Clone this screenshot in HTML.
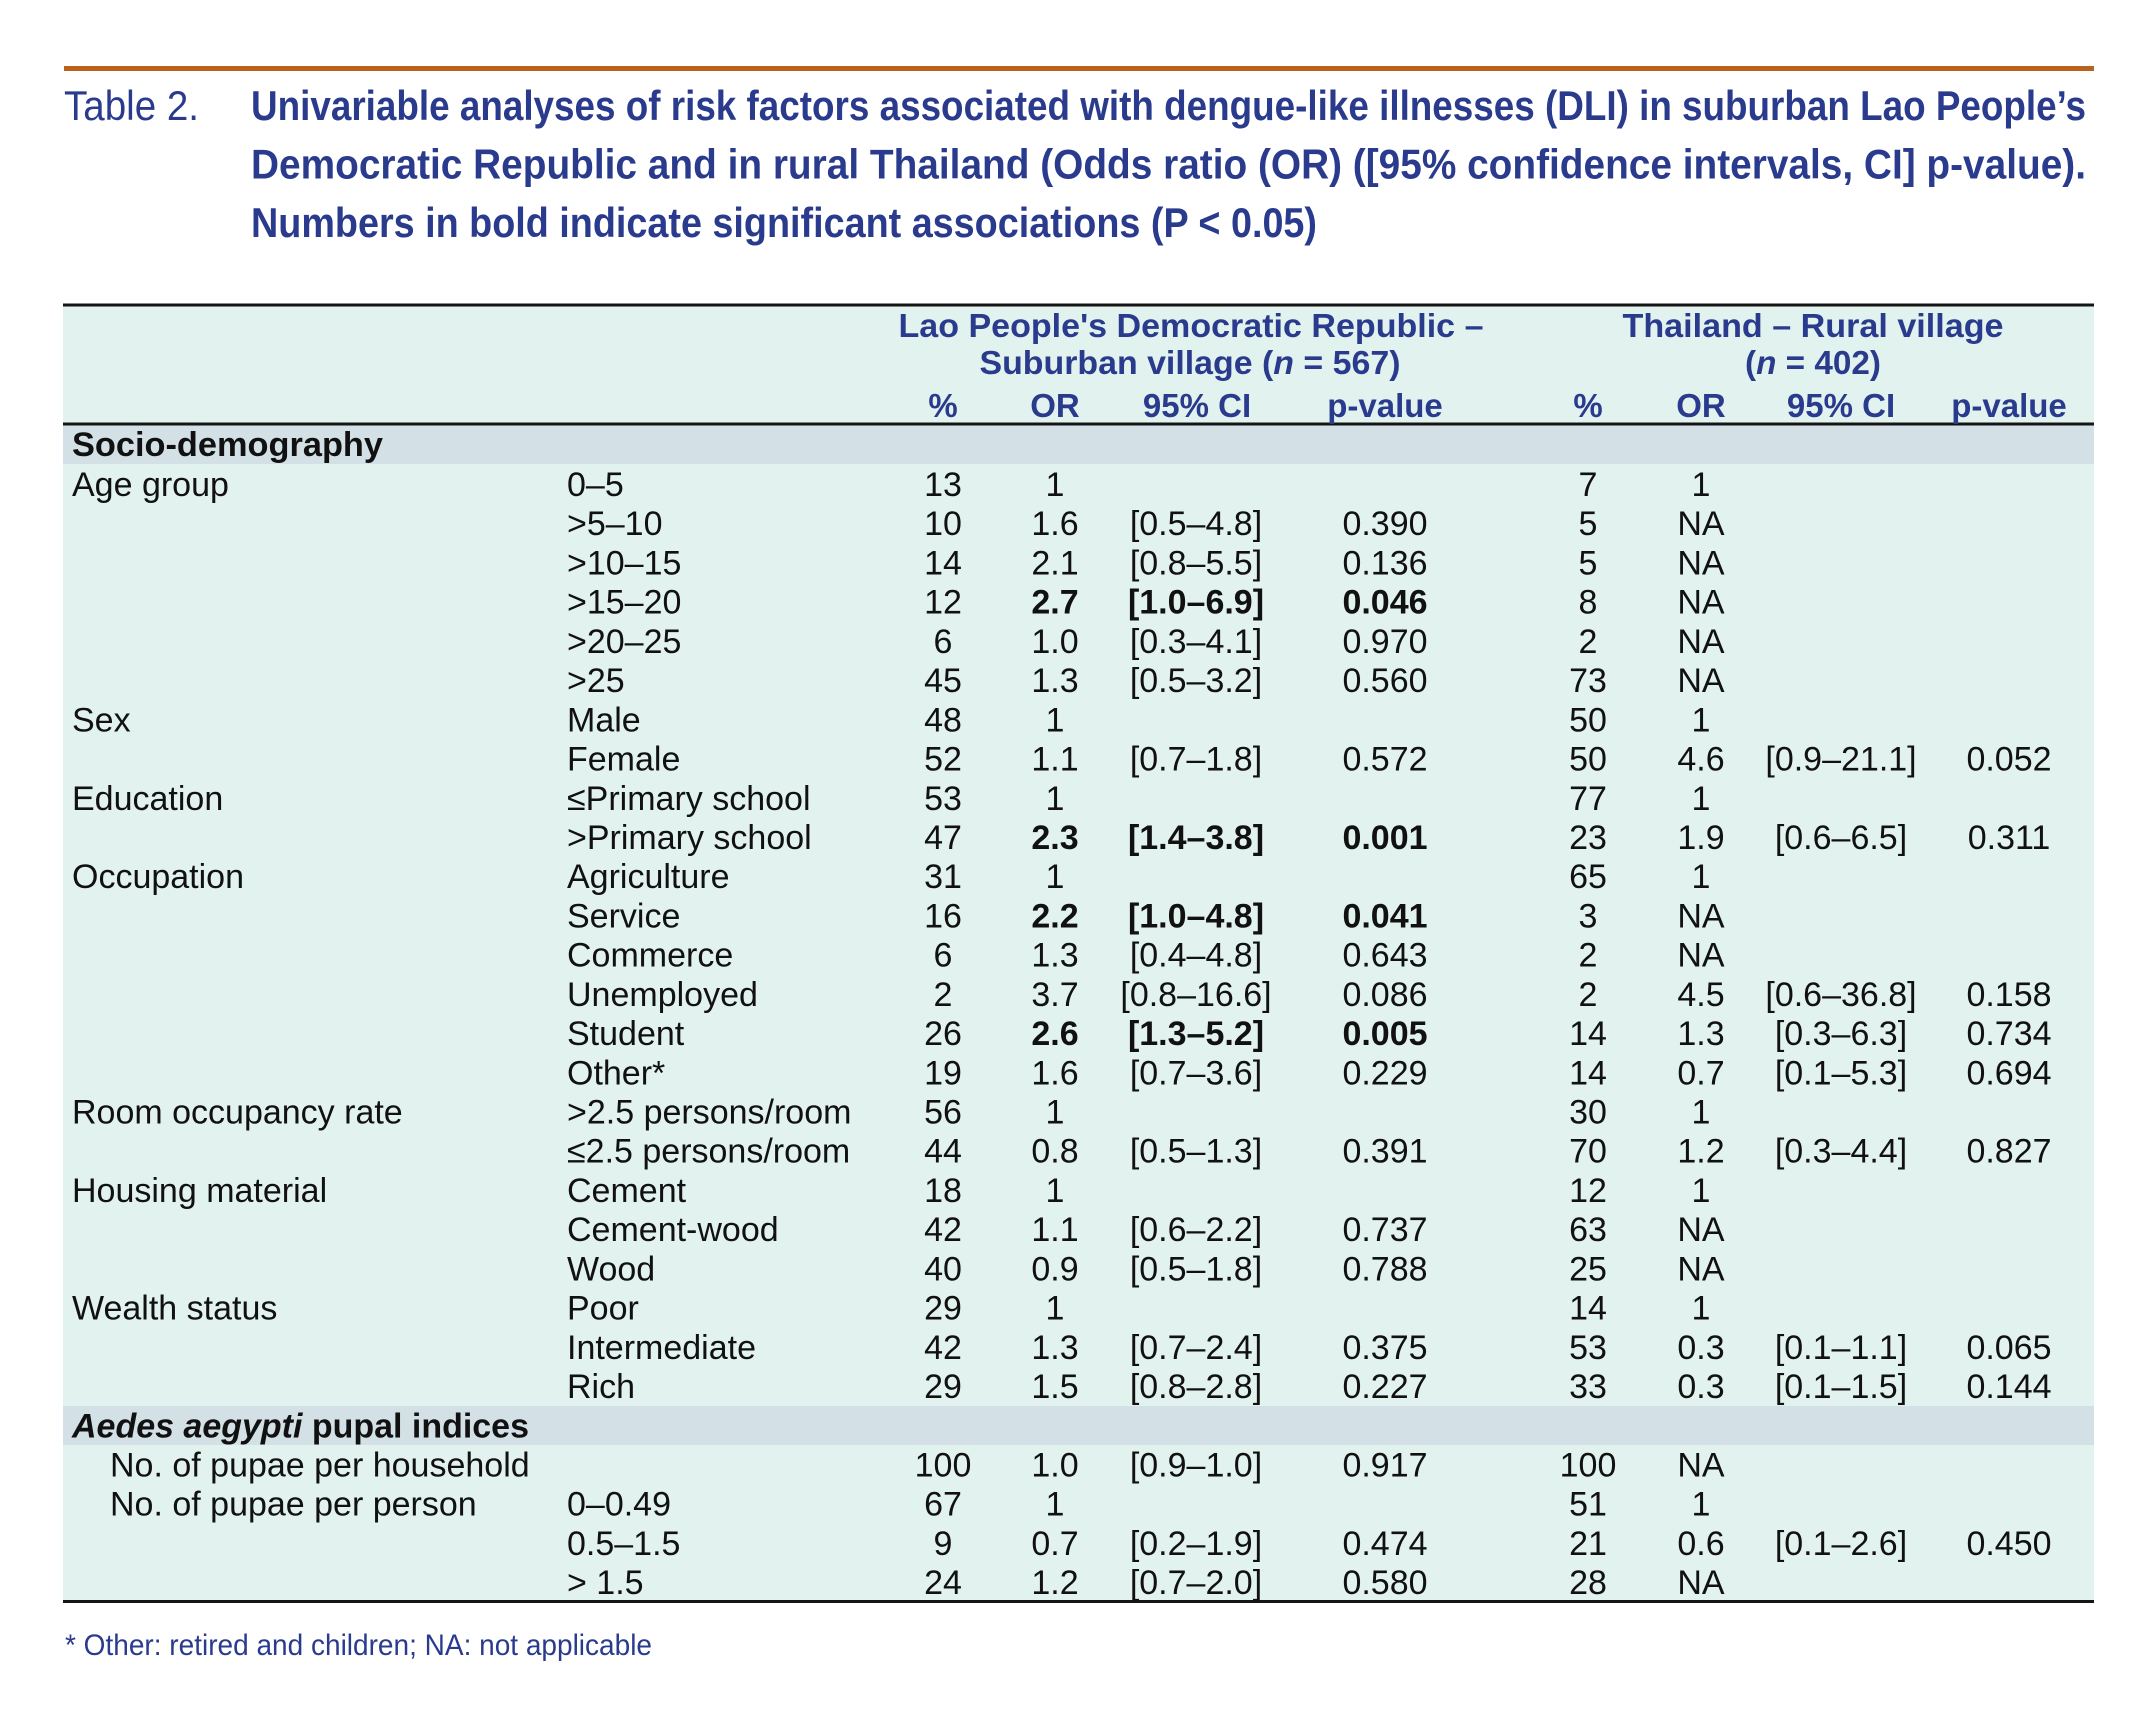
<!DOCTYPE html>
<html>
<head>
<meta charset="utf-8">
<style>
html,body{margin:0;padding:0;background:#fff;}
svg{display:block;}
.t{font-family:"Liberation Sans",Arial,sans-serif;}
.n{font-family:"Liberation Sans",Arial,sans-serif;font-size:34px;fill:#111;text-anchor:middle;}
.l{font-family:"Liberation Sans",Arial,sans-serif;font-size:34px;fill:#111;}
.b{font-weight:bold;}
.h{font-family:"Liberation Sans",Arial,sans-serif;font-size:33px;font-weight:bold;fill:#2a3b8e;text-anchor:middle;}
</style>
</head>
<body>
<svg width="2153" height="1724" viewBox="0 0 2153 1724" xmlns="http://www.w3.org/2000/svg">
<rect x="0" y="0" width="2153" height="1724" fill="#ffffff"/>
<!-- orange rule -->
<rect x="64" y="66" width="2030" height="5" fill="#b9621d"/>
<!-- title -->
<text class="t" x="64" y="120" font-size="42" fill="#2a3b8e" textLength="135" lengthAdjust="spacingAndGlyphs">Table 2.</text>
<text class="t" x="251" y="120" font-size="42" font-weight="bold" fill="#2a3b8e" textLength="1835" lengthAdjust="spacingAndGlyphs">Univariable analyses of risk factors associated with dengue-like illnesses (DLI) in suburban Lao People’s</text>
<text class="t" x="251" y="178.5" font-size="42" font-weight="bold" fill="#2a3b8e" textLength="1835" lengthAdjust="spacingAndGlyphs">Democratic Republic and in rural Thailand (Odds ratio (OR) ([95% confidence intervals, CI] p-value).</text>
<text class="t" x="251" y="237" font-size="42" font-weight="bold" fill="#2a3b8e" textLength="1066" lengthAdjust="spacingAndGlyphs">Numbers in bold indicate significant associations (P &lt; 0.05)</text>

<!-- table backgrounds -->
<rect x="63" y="305" width="2031" height="1296" fill="#e2f2ee"/>
<rect x="63" y="425" width="2031" height="39" fill="#d3e1e6"/>
<rect x="63" y="1406" width="2031" height="39" fill="#d3e1e6"/>
<!-- rules -->
<rect x="63" y="303.5" width="2031" height="3" fill="#151515"/>
<rect x="63" y="422.5" width="2031" height="3" fill="#151515"/>
<rect x="63" y="1600" width="2031" height="3" fill="#151515"/>

<!-- header -->
<text class="h" x="1191" y="337" textLength="585" lengthAdjust="spacingAndGlyphs">Lao People's Democratic Republic –</text>
<text class="h" x="1190" y="374" textLength="421" lengthAdjust="spacingAndGlyphs">Suburban village (<tspan font-style="italic">n</tspan> = 567)</text>
<text class="h" x="1813" y="337" textLength="381" lengthAdjust="spacingAndGlyphs">Thailand – Rural village</text>
<text class="h" x="1813" y="374" textLength="136" lengthAdjust="spacingAndGlyphs">(<tspan font-style="italic">n</tspan> = 402)</text>
<text class="h" x="943" y="417">%</text>
<text class="h" x="1055" y="417">OR</text>
<text class="h" x="1197" y="417">95% CI</text>
<text class="h" x="1385" y="417">p-value</text>
<text class="h" x="1588" y="417">%</text>
<text class="h" x="1701" y="417">OR</text>
<text class="h" x="1841" y="417">95% CI</text>
<text class="h" x="2009" y="417">p-value</text>

<!-- section 1 -->
<text class="l b" x="72" y="456" textLength="311" lengthAdjust="spacingAndGlyphs">Socio-demography</text>

<!-- column 1 labels -->
<text class="l" x="72" y="496">Age group</text>
<text class="l" x="72" y="731.3">Sex</text>
<text class="l" x="72" y="809.8">Education</text>
<text class="l" x="72" y="888.2">Occupation</text>
<text class="l" x="72" y="1123.5">Room occupancy rate</text>
<text class="l" x="72" y="1202">Housing material</text>
<text class="l" x="72" y="1319.6">Wealth status</text>
<text class="l b" x="72" y="1437.3" textLength="457" lengthAdjust="spacingAndGlyphs"><tspan font-style="italic">Aedes aegypti</tspan> pupal indices</text>
<text class="l" x="110" y="1476.5">No. of pupae per household</text>
<text class="l" x="110" y="1515.7">No. of pupae per person</text>

<!-- column 2 labels -->
<text class="l" x="567" y="496">0–5</text>
<text class="l" x="567" y="535.2">&gt;5–10</text>
<text class="l" x="567" y="574.4">&gt;10–15</text>
<text class="l" x="567" y="613.7">&gt;15–20</text>
<text class="l" x="567" y="652.9">&gt;20–25</text>
<text class="l" x="567" y="692.1">&gt;25</text>
<text class="l" x="567" y="731.3">Male</text>
<text class="l" x="567" y="770.5">Female</text>
<text class="l" x="567" y="809.8">≤Primary school</text>
<text class="l" x="567" y="849">&gt;Primary school</text>
<text class="l" x="567" y="888.2">Agriculture</text>
<text class="l" x="567" y="927.4">Service</text>
<text class="l" x="567" y="966.6">Commerce</text>
<text class="l" x="567" y="1005.9">Unemployed</text>
<text class="l" x="567" y="1045.1">Student</text>
<text class="l" x="567" y="1084.3">Other*</text>
<text class="l" x="567" y="1123.5">&gt;2.5 persons/room</text>
<text class="l" x="567" y="1162.7">≤2.5 persons/room</text>
<text class="l" x="567" y="1202">Cement</text>
<text class="l" x="567" y="1241.2">Cement-wood</text>
<text class="l" x="567" y="1280.4">Wood</text>
<text class="l" x="567" y="1319.6">Poor</text>
<text class="l" x="567" y="1358.8">Intermediate</text>
<text class="l" x="567" y="1398.1">Rich</text>
<text class="l" x="567" y="1515.7">0–0.49</text>
<text class="l" x="567" y="1554.9">0.5–1.5</text>
<text class="l" x="567" y="1594.2">&gt; 1.5</text>

<!-- Lao data -->
<g>
<text class="n" x="943" y="496">13</text><text class="n" x="1055" y="496">1</text>
<text class="n" x="943" y="535.2">10</text><text class="n" x="1055" y="535.2">1.6</text><text class="n" x="1196" y="535.2">[0.5–4.8]</text><text class="n" x="1385" y="535.2">0.390</text>
<text class="n" x="943" y="574.4">14</text><text class="n" x="1055" y="574.4">2.1</text><text class="n" x="1196" y="574.4">[0.8–5.5]</text><text class="n" x="1385" y="574.4">0.136</text>
<text class="n" x="943" y="613.7">12</text><text class="n b" x="1055" y="613.7">2.7</text><text class="n b" x="1196" y="613.7">[1.0–6.9]</text><text class="n b" x="1385" y="613.7">0.046</text>
<text class="n" x="943" y="652.9">6</text><text class="n" x="1055" y="652.9">1.0</text><text class="n" x="1196" y="652.9">[0.3–4.1]</text><text class="n" x="1385" y="652.9">0.970</text>
<text class="n" x="943" y="692.1">45</text><text class="n" x="1055" y="692.1">1.3</text><text class="n" x="1196" y="692.1">[0.5–3.2]</text><text class="n" x="1385" y="692.1">0.560</text>
<text class="n" x="943" y="731.3">48</text><text class="n" x="1055" y="731.3">1</text>
<text class="n" x="943" y="770.5">52</text><text class="n" x="1055" y="770.5">1.1</text><text class="n" x="1196" y="770.5">[0.7–1.8]</text><text class="n" x="1385" y="770.5">0.572</text>
<text class="n" x="943" y="809.8">53</text><text class="n" x="1055" y="809.8">1</text>
<text class="n" x="943" y="849">47</text><text class="n b" x="1055" y="849">2.3</text><text class="n b" x="1196" y="849">[1.4–3.8]</text><text class="n b" x="1385" y="849">0.001</text>
<text class="n" x="943" y="888.2">31</text><text class="n" x="1055" y="888.2">1</text>
<text class="n" x="943" y="927.4">16</text><text class="n b" x="1055" y="927.4">2.2</text><text class="n b" x="1196" y="927.4">[1.0–4.8]</text><text class="n b" x="1385" y="927.4">0.041</text>
<text class="n" x="943" y="966.6">6</text><text class="n" x="1055" y="966.6">1.3</text><text class="n" x="1196" y="966.6">[0.4–4.8]</text><text class="n" x="1385" y="966.6">0.643</text>
<text class="n" x="943" y="1005.9">2</text><text class="n" x="1055" y="1005.9">3.7</text><text class="n" x="1196" y="1005.9">[0.8–16.6]</text><text class="n" x="1385" y="1005.9">0.086</text>
<text class="n" x="943" y="1045.1">26</text><text class="n b" x="1055" y="1045.1">2.6</text><text class="n b" x="1196" y="1045.1">[1.3–5.2]</text><text class="n b" x="1385" y="1045.1">0.005</text>
<text class="n" x="943" y="1084.3">19</text><text class="n" x="1055" y="1084.3">1.6</text><text class="n" x="1196" y="1084.3">[0.7–3.6]</text><text class="n" x="1385" y="1084.3">0.229</text>
<text class="n" x="943" y="1123.5">56</text><text class="n" x="1055" y="1123.5">1</text>
<text class="n" x="943" y="1162.7">44</text><text class="n" x="1055" y="1162.7">0.8</text><text class="n" x="1196" y="1162.7">[0.5–1.3]</text><text class="n" x="1385" y="1162.7">0.391</text>
<text class="n" x="943" y="1202">18</text><text class="n" x="1055" y="1202">1</text>
<text class="n" x="943" y="1241.2">42</text><text class="n" x="1055" y="1241.2">1.1</text><text class="n" x="1196" y="1241.2">[0.6–2.2]</text><text class="n" x="1385" y="1241.2">0.737</text>
<text class="n" x="943" y="1280.4">40</text><text class="n" x="1055" y="1280.4">0.9</text><text class="n" x="1196" y="1280.4">[0.5–1.8]</text><text class="n" x="1385" y="1280.4">0.788</text>
<text class="n" x="943" y="1319.6">29</text><text class="n" x="1055" y="1319.6">1</text>
<text class="n" x="943" y="1358.8">42</text><text class="n" x="1055" y="1358.8">1.3</text><text class="n" x="1196" y="1358.8">[0.7–2.4]</text><text class="n" x="1385" y="1358.8">0.375</text>
<text class="n" x="943" y="1398.1">29</text><text class="n" x="1055" y="1398.1">1.5</text><text class="n" x="1196" y="1398.1">[0.8–2.8]</text><text class="n" x="1385" y="1398.1">0.227</text>
<text class="n" x="943" y="1476.5">100</text><text class="n" x="1055" y="1476.5">1.0</text><text class="n" x="1196" y="1476.5">[0.9–1.0]</text><text class="n" x="1385" y="1476.5">0.917</text>
<text class="n" x="943" y="1515.7">67</text><text class="n" x="1055" y="1515.7">1</text>
<text class="n" x="943" y="1554.9">9</text><text class="n" x="1055" y="1554.9">0.7</text><text class="n" x="1196" y="1554.9">[0.2–1.9]</text><text class="n" x="1385" y="1554.9">0.474</text>
<text class="n" x="943" y="1594.2">24</text><text class="n" x="1055" y="1594.2">1.2</text><text class="n" x="1196" y="1594.2">[0.7–2.0]</text><text class="n" x="1385" y="1594.2">0.580</text>
</g>

<!-- Thailand data -->
<g>
<text class="n" x="1588" y="496">7</text><text class="n" x="1701" y="496">1</text>
<text class="n" x="1588" y="535.2">5</text><text class="n" x="1701" y="535.2">NA</text>
<text class="n" x="1588" y="574.4">5</text><text class="n" x="1701" y="574.4">NA</text>
<text class="n" x="1588" y="613.7">8</text><text class="n" x="1701" y="613.7">NA</text>
<text class="n" x="1588" y="652.9">2</text><text class="n" x="1701" y="652.9">NA</text>
<text class="n" x="1588" y="692.1">73</text><text class="n" x="1701" y="692.1">NA</text>
<text class="n" x="1588" y="731.3">50</text><text class="n" x="1701" y="731.3">1</text>
<text class="n" x="1588" y="770.5">50</text><text class="n" x="1701" y="770.5">4.6</text><text class="n" x="1841" y="770.5">[0.9–21.1]</text><text class="n" x="2009" y="770.5">0.052</text>
<text class="n" x="1588" y="809.8">77</text><text class="n" x="1701" y="809.8">1</text>
<text class="n" x="1588" y="849">23</text><text class="n" x="1701" y="849">1.9</text><text class="n" x="1841" y="849">[0.6–6.5]</text><text class="n" x="2009" y="849">0.311</text>
<text class="n" x="1588" y="888.2">65</text><text class="n" x="1701" y="888.2">1</text>
<text class="n" x="1588" y="927.4">3</text><text class="n" x="1701" y="927.4">NA</text>
<text class="n" x="1588" y="966.6">2</text><text class="n" x="1701" y="966.6">NA</text>
<text class="n" x="1588" y="1005.9">2</text><text class="n" x="1701" y="1005.9">4.5</text><text class="n" x="1841" y="1005.9">[0.6–36.8]</text><text class="n" x="2009" y="1005.9">0.158</text>
<text class="n" x="1588" y="1045.1">14</text><text class="n" x="1701" y="1045.1">1.3</text><text class="n" x="1841" y="1045.1">[0.3–6.3]</text><text class="n" x="2009" y="1045.1">0.734</text>
<text class="n" x="1588" y="1084.3">14</text><text class="n" x="1701" y="1084.3">0.7</text><text class="n" x="1841" y="1084.3">[0.1–5.3]</text><text class="n" x="2009" y="1084.3">0.694</text>
<text class="n" x="1588" y="1123.5">30</text><text class="n" x="1701" y="1123.5">1</text>
<text class="n" x="1588" y="1162.7">70</text><text class="n" x="1701" y="1162.7">1.2</text><text class="n" x="1841" y="1162.7">[0.3–4.4]</text><text class="n" x="2009" y="1162.7">0.827</text>
<text class="n" x="1588" y="1202">12</text><text class="n" x="1701" y="1202">1</text>
<text class="n" x="1588" y="1241.2">63</text><text class="n" x="1701" y="1241.2">NA</text>
<text class="n" x="1588" y="1280.4">25</text><text class="n" x="1701" y="1280.4">NA</text>
<text class="n" x="1588" y="1319.6">14</text><text class="n" x="1701" y="1319.6">1</text>
<text class="n" x="1588" y="1358.8">53</text><text class="n" x="1701" y="1358.8">0.3</text><text class="n" x="1841" y="1358.8">[0.1–1.1]</text><text class="n" x="2009" y="1358.8">0.065</text>
<text class="n" x="1588" y="1398.1">33</text><text class="n" x="1701" y="1398.1">0.3</text><text class="n" x="1841" y="1398.1">[0.1–1.5]</text><text class="n" x="2009" y="1398.1">0.144</text>
<text class="n" x="1588" y="1476.5">100</text><text class="n" x="1701" y="1476.5">NA</text>
<text class="n" x="1588" y="1515.7">51</text><text class="n" x="1701" y="1515.7">1</text>
<text class="n" x="1588" y="1554.9">21</text><text class="n" x="1701" y="1554.9">0.6</text><text class="n" x="1841" y="1554.9">[0.1–2.6]</text><text class="n" x="2009" y="1554.9">0.450</text>
<text class="n" x="1588" y="1594.2">28</text><text class="n" x="1701" y="1594.2">NA</text>
</g>

<!-- footnote -->
<text class="t" x="65" y="1655" font-size="30" fill="#2a3b8e" textLength="587" lengthAdjust="spacingAndGlyphs">* Other: retired and children; NA: not applicable</text>
</svg>
</body>
</html>
